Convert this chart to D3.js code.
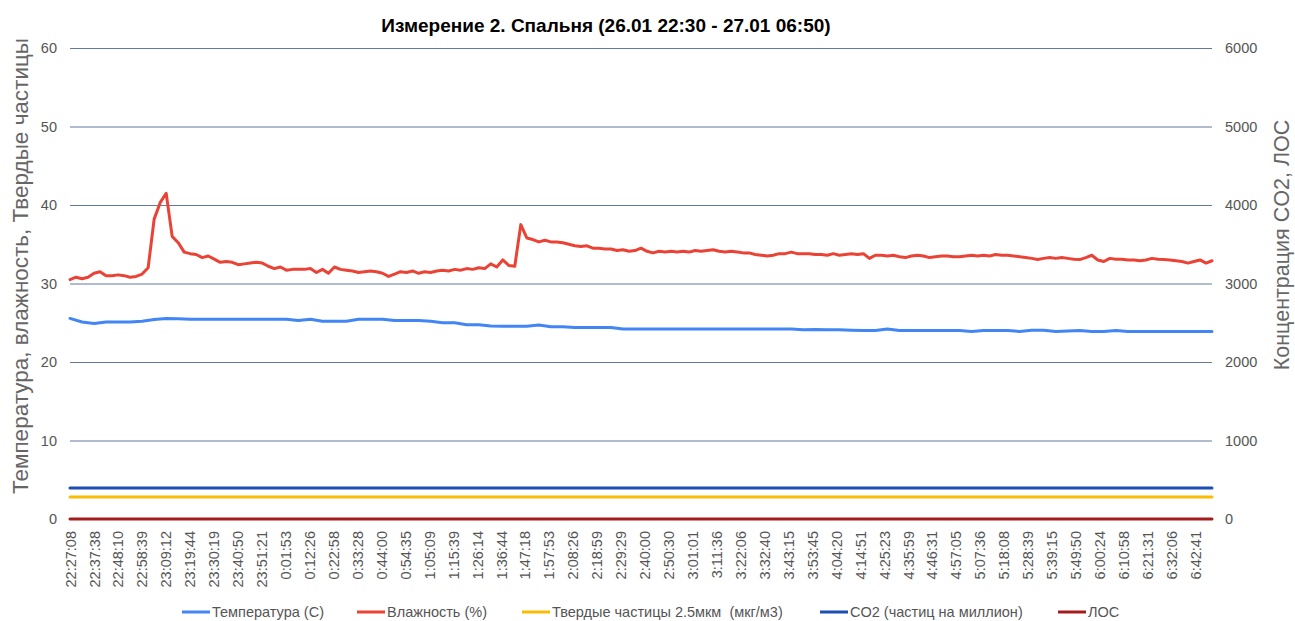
<!DOCTYPE html>
<html>
<head>
<meta charset="utf-8">
<script src="https://cdn.jsdelivr.net/npm/d3@7"></script>
<style>
  body { margin: 0; background: #fff; }
  svg { font-family: Arial, "Liberation Sans", sans-serif; }
</style>
</head>
<body>
<svg id="canvas"></svg>
<script>
let timeLabels = [
  "22:27:08", "22:37:38", "22:48:10", "22:58:39", "23:09:12", "23:19:44", "23:30:19", "23:40:50",
  "23:51:21", "0:01:53", "0:12:26", "0:22:58", "0:33:28", "0:44:00", "0:54:35", "1:05:09",
  "1:15:39", "1:26:14", "1:36:44", "1:47:18", "1:57:53", "2:08:26", "2:18:59", "2:29:29",
  "2:40:00", "2:50:30", "3:01:01", "3:11:36", "3:22:06", "3:32:40", "3:43:15", "3:53:45",
  "4:04:20", "4:14:51", "4:25:23", "4:35:59", "4:46:31", "4:57:05", "5:07:36", "5:18:08",
  "5:28:39", "5:39:15", "5:49:50", "6:00:24", "6:10:58", "6:21:31", "6:32:06", "6:42:41"
];

// last sample sits a bit after the last label (in label steps)
let lastIndex = 47.7;

let leftTicks = [0, 10, 20, 30, 40, 50, 60];
let rightTicks = [0, 1000, 2000, 3000, 4000, 5000, 6000];

let humidity = [
  30.5, 30.8, 30.6, 30.8, 31.3, 31.5, 31.0, 31.0, 31.1, 31.0, 30.8, 30.9, 31.2, 32.0, 38.2, 40.3,
  41.5, 36.0, 35.2, 34.0, 33.8, 33.7, 33.3, 33.5, 33.1, 32.7, 32.8, 32.7, 32.4, 32.5, 32.6, 32.7,
  32.6, 32.2, 31.9, 32.1, 31.7, 31.8, 31.8, 31.8, 31.9, 31.4, 31.8, 31.3, 32.1, 31.8, 31.7, 31.6,
  31.4, 31.5, 31.6, 31.5, 31.3, 30.9, 31.2, 31.5, 31.4, 31.6, 31.3, 31.5, 31.4, 31.6, 31.7, 31.6,
  31.8, 31.7, 31.9, 31.8, 32.0, 31.9, 32.5, 32.1, 33.0, 32.3, 32.2, 37.5, 35.8, 35.6, 35.3, 35.5,
  35.3, 35.3, 35.2, 35.0, 34.8, 34.7, 34.8, 34.5, 34.5, 34.4, 34.4, 34.2, 34.3, 34.1, 34.2, 34.5,
  34.1, 33.9, 34.1, 34.0, 34.1, 34.0, 34.1, 34.0, 34.2, 34.1, 34.2, 34.3, 34.1, 34.0, 34.1, 34.0,
  33.9, 33.9, 33.7, 33.6, 33.5, 33.6, 33.8, 33.8, 34.0, 33.8, 33.8, 33.8, 33.7, 33.7, 33.6, 33.8,
  33.6, 33.7, 33.8, 33.7, 33.8, 33.2, 33.6, 33.6, 33.5, 33.6, 33.4, 33.3, 33.5, 33.6, 33.5, 33.3,
  33.4, 33.5, 33.5, 33.4, 33.4, 33.5, 33.6, 33.5, 33.6, 33.5, 33.7, 33.6, 33.6, 33.5, 33.4, 33.3,
  33.2, 33.05, 33.2, 33.3, 33.2, 33.3, 33.2, 33.1, 33.05, 33.3, 33.6, 33.0, 32.8, 33.2, 33.1, 33.1,
  33.0, 33.0, 32.9, 33.0, 33.2, 33.1, 33.05, 33.0, 32.9, 32.8, 32.6, 32.8, 33.0, 32.6, 32.9
];

let temperature = [
  25.55, 25.1, 24.9, 25.1, 25.1, 25.1, 25.2, 25.4, 25.55, 25.5, 25.45, 25.45, 25.45, 25.45, 25.45, 25.45,
  25.45, 25.45, 25.45, 25.3, 25.45, 25.2, 25.2, 25.2, 25.45, 25.45, 25.45, 25.3, 25.3, 25.3, 25.2, 25.0,
  25.0, 24.75, 24.75, 24.6, 24.55, 24.55, 24.55, 24.7, 24.5, 24.5, 24.4, 24.4, 24.4, 24.4, 24.2, 24.2,
  24.2, 24.2, 24.2, 24.2, 24.2, 24.2, 24.2, 24.2, 24.2, 24.2, 24.2, 24.2, 24.2, 24.1, 24.15, 24.1,
  24.1, 24.05, 24.0, 24.0, 24.2, 24.0, 24.0, 24.0, 24.0, 24.0, 24.0, 23.9, 24.0, 24.0, 24.0, 23.9,
  24.05, 24.05, 23.9, 23.95, 24.0, 23.9, 23.9, 24.0, 23.9, 23.9, 23.9, 23.9, 23.9, 23.9, 23.9, 23.9
];

let pm25 = [2.8, 2.8, 2.8, 2.8, 2.8, 2.8, 2.8, 2.8, 2.8, 2.8, 2.8, 2.8];
let co2 = [395, 395, 395, 395, 395, 395, 395, 395, 395, 395, 395, 395];
let voc = [0, 0, 0, 0, 0, 0, 0, 0, 0, 0, 0, 0];

let seriesList = [
  { name: "Температура (С)", values: temperature, axis: "left", color: "#4285f4" },
  { name: "Влажность (%)", values: humidity, axis: "left", color: "#ea4335" },
  { name: "Твердые частицы 2.5мкм  (мкг/м3)", values: pm25, axis: "left", color: "#fbbc04" },
  { name: "CO2 (частиц на миллион)", values: co2, axis: "right", color: "#1c4eb3" },
  { name: "ЛОС", values: voc, axis: "right", color: "#a61c1c" }
];

let width = 1295;
let height = 621;
let plotLeft = 70;
let plotRight = 1212;
let plotTop = 48;
let plotBottom = 519;
let tickFont = "14.5px";

let canvas = d3.select("#canvas").attr("width", width).attr("height", height);

let xScale = d3.scaleLinear().domain([0, lastIndex]).range([plotLeft, plotRight]);
let yLeft = d3.scaleLinear().domain([0, 60]).range([plotBottom, plotTop]);
let yRight = d3.scaleLinear().domain([0, 6000]).range([plotBottom, plotTop]);

// title
canvas.append("text")
  .attr("x", 606)
  .attr("y", 32)
  .attr("text-anchor", "middle")
  .style("font-size", "19px")
  .style("font-weight", "bold")
  .style("fill", "#000")
  .text("Измерение 2. Спальня (26.01 22:30 - 27.01 06:50)");

// gridlines
canvas.append("g")
  .selectAll("line")
  .data(leftTicks)
  .enter()
  .append("line")
  .attr("x1", plotLeft)
  .attr("x2", plotRight)
  .attr("y1", (d) => yLeft(d) + 0.5)
  .attr("y2", (d) => yLeft(d) + 0.5)
  .attr("stroke", "#6479a0")
  .attr("stroke-width", 1);

// left axis
let leftAxis = d3.axisLeft(yLeft).tickValues(leftTicks).tickSize(0).tickPadding(13);
canvas.append("g")
  .attr("transform", "translate(" + plotLeft + ",0)")
  .call(leftAxis)
  .call((g) => g.select(".domain").remove())
  .selectAll("text")
  .style("font-size", tickFont)
  .style("font-family", "Arial, 'Liberation Sans', sans-serif")
  .style("fill", "#555");

// right axis
let rightAxis = d3.axisRight(yRight)
  .tickValues(rightTicks)
  .tickFormat(d3.format("d"))
  .tickSize(0)
  .tickPadding(13);
canvas.append("g")
  .attr("transform", "translate(" + plotRight + ",0)")
  .call(rightAxis)
  .call((g) => g.select(".domain").remove())
  .selectAll("text")
  .style("font-size", tickFont)
  .style("font-family", "Arial, 'Liberation Sans', sans-serif")
  .style("fill", "#555");

// x axis, rotated labels
let xAxis = d3.axisBottom(xScale)
  .tickValues(d3.range(timeLabels.length))
  .tickFormat((i) => timeLabels[i])
  .tickSize(0);
canvas.append("g")
  .attr("transform", "translate(0," + plotBottom + ")")
  .call(xAxis)
  .call((g) => g.select(".domain").remove())
  .selectAll("text")
  .attr("transform", "rotate(-90)")
  .attr("x", -12)
  .attr("y", 0)
  .attr("dy", "0.35em")
  .attr("text-anchor", "end")
  .style("font-size", tickFont)
  .style("font-family", "Arial, 'Liberation Sans', sans-serif")
  .style("fill", "#555");

// axis titles
canvas.append("text")
  .attr("transform", "translate(28,266) rotate(-90)")
  .attr("text-anchor", "middle")
  .style("font-size", "22.5px")
  .style("fill", "#666")
  .text("Температура, влажность, Твердые частицы");

canvas.append("text")
  .attr("transform", "translate(1289,245) rotate(-90)")
  .attr("text-anchor", "middle")
  .style("font-size", "21.5px")
  .style("fill", "#666")
  .text("Концентрация CO2, ЛОС");

// series lines
seriesList.forEach((s) => {
  let yScale = s.axis === "left" ? yLeft : yRight;
  let step = lastIndex / (s.values.length - 1);
  let line = d3.line()
    .x((d, i) => xScale(i * step))
    .y((d) => yScale(d));
  canvas.append("path")
    .datum(s.values)
    .attr("d", line)
    .attr("fill", "none")
    .attr("stroke", s.color)
    .attr("stroke-width", 3)
    .attr("stroke-linejoin", "round")
    .attr("stroke-linecap", "round");
});

// legend
let legendX = [182, 357, 522, 820, 1058];
let legend = canvas.append("g");
seriesList.forEach((s, i) => {
  legend.append("line")
    .attr("x1", legendX[i])
    .attr("x2", legendX[i] + 28)
    .attr("y1", 612)
    .attr("y2", 612)
    .attr("stroke", s.color)
    .attr("stroke-width", 3);
  legend.append("text")
    .attr("x", legendX[i] + 30)
    .attr("y", 612)
    .attr("dy", "0.35em")
    .attr("xml:space", "preserve")
    .style("font-size", "14.5px")
    .style("fill", "#555")
    .style("white-space", "pre")
    .text(s.name);
});
</script>
</body>
</html>
